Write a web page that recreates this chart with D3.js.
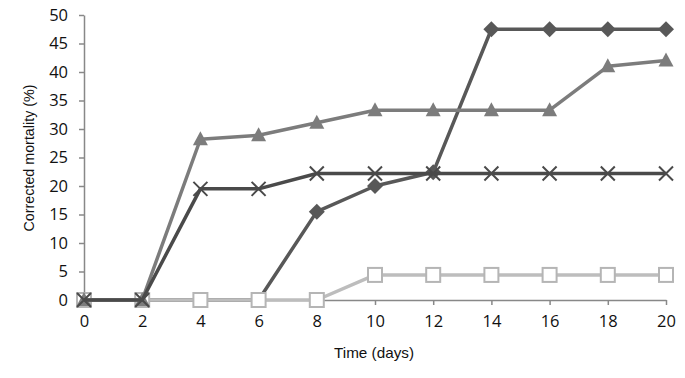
<!DOCTYPE html>
<html><head><meta charset="utf-8">
<script src="https://cdn.jsdelivr.net/npm/d3@7"></script>
<style>body{margin:0;background:#fff}svg{display:block}</style>
</head><body>
<script>
const days = [0,2,4,6,8,10,12,14,16,18,20];
const diamondSeries = [0,0,0,0,15.5,20,22.4,47.5,47.5,47.5,47.5];
const squareSeries  = [0,0,0,0,0,4.4,4.4,4.4,4.4,4.4,4.4];
const triangleSeries= [0,0,28.2,28.9,31.1,33.3,33.3,33.3,33.3,41,42];
const crossSeries   = [0,0,19.5,19.5,22.2,22.2,22.2,22.2,22.2,22.2,22.2];
const yTicks = [0,5,10,15,20,25,30,35,40,45,50];
const xTitle = "Time (days)";
const yTitle = "Corrected mortality (%)";

const W=685,H=378;
const svg=d3.select("body").append("svg").attr("width",W).attr("height",H);
const x=d3.scaleLinear().domain([0,20]).range([84,666]);
const y=d3.scaleLinear().domain([0,50]).range([300,15]);
const axisCol="#888";
const tickFont="'Open Sans', 'DejaVu Sans', sans-serif";
const titleFont="'Liberation Sans', Arial, sans-serif";

const gx=svg.append("g").attr("transform","translate(0,300)")
  .call(d3.axisBottom(x).tickValues(days).tickSize(5).tickSizeOuter(0).tickPadding(10));
const gy=svg.append("g").attr("transform","translate(84,0)")
  .call(d3.axisLeft(y).tickValues(yTicks).tickSize(5).tickSizeOuter(0).tickPadding(11));
[gx,gy].forEach(g=>{
  g.select(".domain").attr("stroke",axisCol).attr("stroke-width",1.5);
  g.selectAll(".tick line").attr("stroke",axisCol).attr("stroke-width",1.5);
  g.selectAll(".tick text").attr("fill","#111").style("font-family",tickFont).style("font-size","16.5px");
});

svg.append("text").attr("x",374).attr("y",358).attr("text-anchor","middle")
  .attr("textLength",80).attr("lengthAdjust","spacingAndGlyphs")
  .style("font-family",titleFont).style("font-size","15px").attr("fill","#111").text(xTitle);
svg.append("text").attr("transform","translate(34,158) rotate(-90)").attr("text-anchor","middle")
  .attr("textLength",147).attr("lengthAdjust","spacingAndGlyphs")
  .style("font-family",titleFont).style("font-size","15px").attr("fill","#111").text(yTitle);

const line=d3.line().x((d,i)=>x(days[i])).y(d=>y(d));
function drawLine(data,col){
  svg.append("path").datum(data).attr("d",line).attr("fill","none")
    .attr("stroke",col).attr("stroke-width",3.5).attr("stroke-linejoin","round");
}
// diamond series
drawLine(diamondSeries,"#585858");
svg.append("g").selectAll("path").data(diamondSeries).join("path")
  .attr("transform",(d,i)=>`translate(${x(days[i])},${y(d)})`)
  .attr("d","M0,-8L8,0L0,8L-8,0Z").attr("fill","#585858");
// square series
drawLine(squareSeries,"#bdbdbd");
svg.append("g").selectAll("rect").data(squareSeries).join("rect")
  .attr("x",(d,i)=>x(days[i])-7).attr("y",d=>y(d)-7).attr("width",14).attr("height",14)
  .attr("fill","#fff").attr("stroke","#b5b5b5").attr("stroke-width",2);
// triangle series
drawLine(triangleSeries,"#7c7c7c");
svg.append("g").selectAll("path").data(triangleSeries).join("path")
  .attr("transform",(d,i)=>`translate(${x(days[i])},${y(d)})`)
  .attr("d","M0,-8L7.5,6L-7.5,6Z").attr("fill","#7c7c7c");
// cross series
drawLine(crossSeries,"#4a4a4a");
svg.append("g").selectAll("path").data(crossSeries).join("path")
  .attr("transform",(d,i)=>`translate(${x(days[i])},${y(d)})`)
  .attr("d","M-7,-7L7,7M-7,7L7,-7").attr("stroke","#4a4a4a").attr("stroke-width",2).attr("fill","none");
</script>
</body></html>
